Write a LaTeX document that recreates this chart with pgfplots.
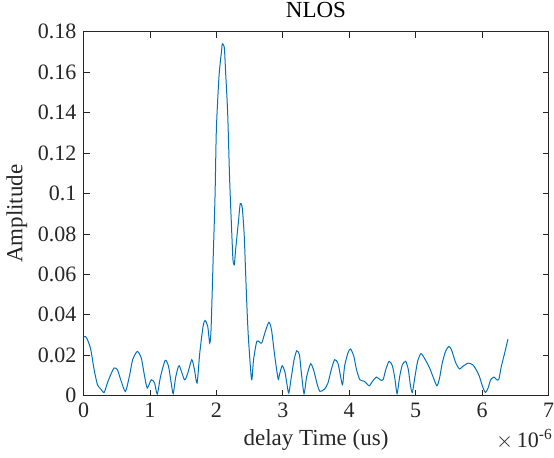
\documentclass[border=0pt]{standalone}
\usepackage{fontspec}
\setmainfont{Liberation Serif}
\usepackage{pgfplots}
\pgfplotsset{compat=1.18}
\definecolor{mblue}{rgb}{0,0.447,0.741}
\definecolor{mgray}{rgb}{0.15,0.15,0.15}
\pgfplotstableread{
x y
0 0.0290
0.03 0.0292
0.06 0.0277
0.11 0.0227
0.16 0.0129
0.21 0.0054
0.26 0.0033
0.31 0.0016
0.36 0.0063
0.41 0.0104
0.46 0.0137
0.51 0.0129
0.56 0.0079
0.63 0.0021
0.69 0.0095
0.74 0.0178
0.81 0.0219
0.87 0.0186
0.92 0.0095
0.96 0.0038
1.02 0.0079
1.07 0.0063
1.11 0.0008
1.16 0.0095
1.23 0.0175
1.28 0.0145
1.32 0.0063
1.35 0.0010
1.39 0.0095
1.44 0.0148
1.52 0.0079
1.57 0.0112
1.63 0.0178
1.67 0.0129
1.71 0.0063
1.75 0.0211
1.80 0.0343
1.83 0.0372
1.87 0.0343
1.90 0.0260
1.92 0.0326
1.95 0.0656
1.98 0.0986
2.00 0.1316
2.04 0.1580
2.08 0.1711
2.09 0.1740
2.12 0.1720
2.14 0.1596
2.17 0.1400
2.20 0.1068
2.23 0.0820
2.25 0.0673
2.27 0.0648
2.29 0.0722
2.33 0.0854
2.36 0.0950
2.39 0.0928
2.42 0.0788
2.45 0.0524
2.48 0.0300
2.53 0.0079
2.56 0.0178
2.61 0.0269
2.68 0.0260
2.73 0.0310
2.79 0.0363
2.83 0.0326
2.88 0.0194
2.93 0.0082
2.95 0.0104
2.99 0.0148
3.03 0.0120
3.06 0.0063
3.09 0.0013
3.13 0.0095
3.17 0.0178
3.21 0.0222
3.25 0.0203
3.28 0.0112
3.32 0.0010
3.36 0.0095
3.42 0.0158
3.47 0.0120
3.52 0.0054
3.56 0.0021
3.63 0.0033
3.68 0.0063
3.73 0.0129
3.78 0.0178
3.83 0.0161
3.87 0.0095
3.90 0.0054
3.93 0.0145
3.98 0.0211
4.02 0.0231
4.07 0.0194
4.11 0.0129
4.16 0.0079
4.23 0.0071
4.30 0.0049
4.35 0.0071
4.41 0.0092
4.47 0.0078
4.51 0.0079
4.55 0.0129
4.60 0.0170
4.65 0.0148
4.69 0.0079
4.72 0.0010
4.76 0.0095
4.80 0.0153
4.85 0.0170
4.89 0.0129
4.92 0.0054
4.95 0.0016
4.99 0.0095
5.03 0.0170
5.08 0.0208
5.14 0.0181
5.21 0.0137
5.26 0.0095
5.32 0.0049
5.36 0.0087
5.40 0.0161
5.45 0.0219
5.50 0.0244
5.54 0.0227
5.60 0.0165
5.66 0.0132
5.71 0.0145
5.79 0.0161
5.86 0.0153
5.91 0.0129
5.96 0.0095
6.01 0.0043
6.05 0.0016
6.09 0.0038
6.13 0.0079
6.18 0.0092
6.21 0.0082
6.25 0.0079
6.29 0.0145
6.34 0.0211
6.39 0.0280
}\nlos
\begin{document}
\begin{tikzpicture}
\begin{axis}[
  scale only axis,
  width=232.5pt, height=182pt,
  xmin=0, xmax=7, ymin=0, ymax=0.18,
  xtick={0,1,...,7},
  ytick={0,0.02,...,0.18},
  scaled y ticks=false, scaled x ticks=false,
  yticklabel style={/pgf/number format/fixed, /pgf/number format/precision=2},
  /pgf/number format/assume math mode=true,
  tick align=inside,
  major tick length=3pt,
  axis line style={mgray, line width=0.4pt},
  every tick/.style={mgray, line width=0.4pt},
  tick label style={font=\fontsize{11}{13}\selectfont, text=mgray},
  label style={font=\fontsize{11.5}{13}\selectfont, text=mgray},
  title style={font=\fontsize{11.5}{13}\selectfont, text=black, yshift=-2.5pt},
  title={NLOS},
  xlabel={delay Time (us)},
  ylabel={Amplitude},
  xlabel style={yshift=1pt},
  ylabel style={yshift=-1.5pt},
  clip=false,
]
\addplot[mblue, line width=0.5pt, smooth, tension=0.4] table[x=x,y=y]{\nlos};
\coordinate (ll) at (rel axis cs:0,0);
\coordinate (ur) at (rel axis cs:1,1);
\node[anchor=north east, inner sep=0pt, text=mgray, font=\fontsize{11}{13}\selectfont] at ([yshift=-16.5pt,xshift=2.3pt]rel axis cs:1,0) {$\times$\,10\textsuperscript{-6}};
\end{axis}
\pgfresetboundingbox
\path[use as bounding box] ([shift={(-41.75pt,-31pt)}]ll) rectangle ([shift={(2.75pt,15.85pt)}]ur);
\end{tikzpicture}
\end{document}
